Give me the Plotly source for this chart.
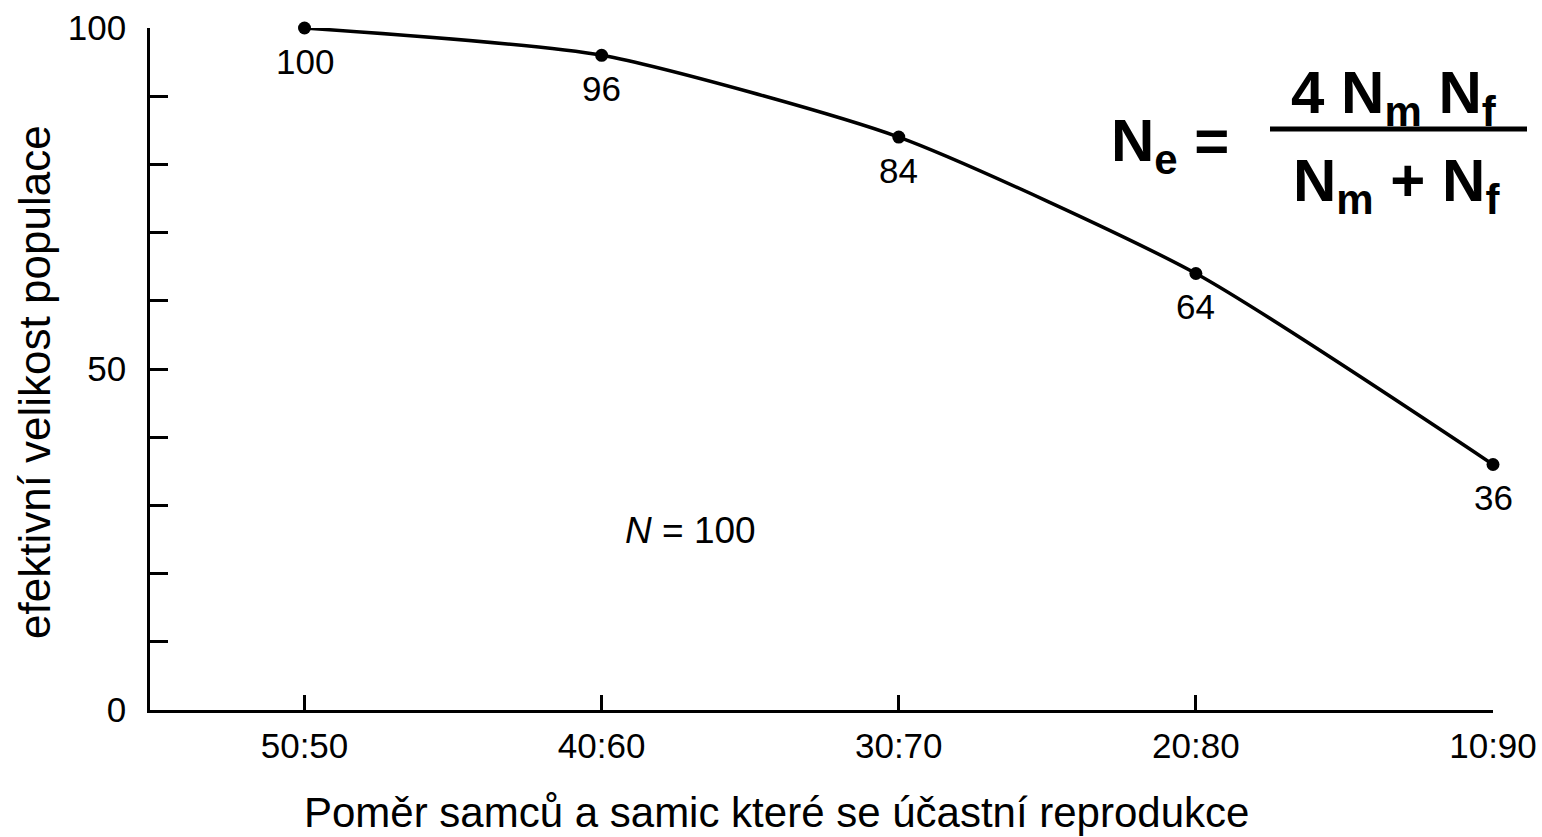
import plotly.graph_objects as go

# pomer samcu a samic -> efektivni velikost populace
ratios = ["50:50", "40:60", "30:70", "20:80", "10:90"]
ne_vals = [100, 96, 84, 64, 36]
y_ticks = [0, 10, 20, 30, 40, 50, 60, 70, 80, 90, 100]
y_labels = ["0", "", "", "", "", "50", "", "", "", "", "100"]

FONT = "Liberation Sans, Arial, sans-serif"
W, H = 1542, 837
X0, X1, Y0, Y1 = 150, 1493, 28, 710   # plot area in pixels

def px(x):
    return (x - X0) / (X1 - X0)

def py(y):
    return (Y1 - y) / (Y1 - Y0)

xpos = list(range(len(ratios)))

fig = go.Figure()
fig.add_trace(go.Scatter(
    x=xpos, y=ne_vals, mode="lines+markers",
    line=dict(color="black", width=3.5, shape="spline", smoothing=0.6),
    marker=dict(color="black", size=13),
    cliponaxis=False, showlegend=False, hoverinfo="skip",
))
# popisky bodu
for xi, v in zip(xpos, ne_vals):
    fig.add_annotation(x=xi, y=v, text=str(v), showarrow=False,
                       yshift=-33, xanchor="center", yanchor="middle",
                       font=dict(size=35, color="black", family=FONT))

fig.update_xaxes(
    range=[-0.52, 4.0], tickvals=xpos, ticktext=ratios,
    showline=True, linecolor="black", linewidth=2.5,
    ticks="inside", ticklen=15, tickwidth=2.5, tickcolor="black",
    showgrid=False, zeroline=False, ticklabelstandoff=3,
    ticklabeloverflow="allow", automargin=False,
    tickfont=dict(size=35, color="black", family=FONT),
)
fig.update_yaxes(
    range=[0, 100], tickvals=y_ticks, ticktext=y_labels,
    showline=True, linecolor="black", linewidth=2.5,
    ticks="inside", ticklen=18, tickwidth=2.5, tickcolor="black",
    showgrid=False, zeroline=False, ticklabelstandoff=14,
    automargin=False,
    tickfont=dict(size=35, color="black", family=FONT),
)

# nazvy os
fig.add_annotation(x=px(776), y=py(812), xref="paper", yref="paper",
                   xanchor="center", yanchor="middle", showarrow=False,
                   text="Poměr samců a samic které se účastní reprodukce",
                   font=dict(size=42, color="black", family=FONT))
fig.add_annotation(x=px(34), y=py(382), xref="paper", yref="paper",
                   xanchor="center", yanchor="middle", showarrow=False,
                   textangle=-90, text="efektivní velikost populace",
                   font=dict(size=44, color="black", family=FONT))

# vzorec
big = dict(size=60, color="black", family=FONT)
fig.add_annotation(x=px(1170), y=py(145), xref="paper", yref="paper",
                   xanchor="center", yanchor="middle",
                   text="<b>N<sub>e</sub> =</b>", showarrow=False, font=big)
fig.add_annotation(x=px(1394), y=py(97), xref="paper", yref="paper",
                   xanchor="center", yanchor="middle",
                   text="<b>4 N<sub>m</sub> N<sub>f</sub></b>", showarrow=False, font=big)
fig.add_annotation(x=px(1396), y=py(185), xref="paper", yref="paper",
                   xanchor="center", yanchor="middle",
                   text="<b>N<sub>m</sub> + N<sub>f</sub></b>", showarrow=False, font=big)
fig.add_shape(type="line", xref="paper", yref="paper",
              x0=px(1270), x1=px(1527), y0=py(129), y1=py(129),
              line=dict(color="black", width=5))

fig.add_annotation(x=px(690), y=py(530), xref="paper", yref="paper",
                   xanchor="center", yanchor="middle",
                   text="<i>N</i> = 100", showarrow=False,
                   font=dict(size=37, color="black", family=FONT))

fig.update_layout(
    width=W, height=H,
    margin=dict(l=X0, r=W - X1, t=Y0, b=H - Y1),
    paper_bgcolor="white", plot_bgcolor="white",
)
fig.write_html("out.html", config={"displayModeBar": False},
               post_script="document.body.style.margin='0px';")
